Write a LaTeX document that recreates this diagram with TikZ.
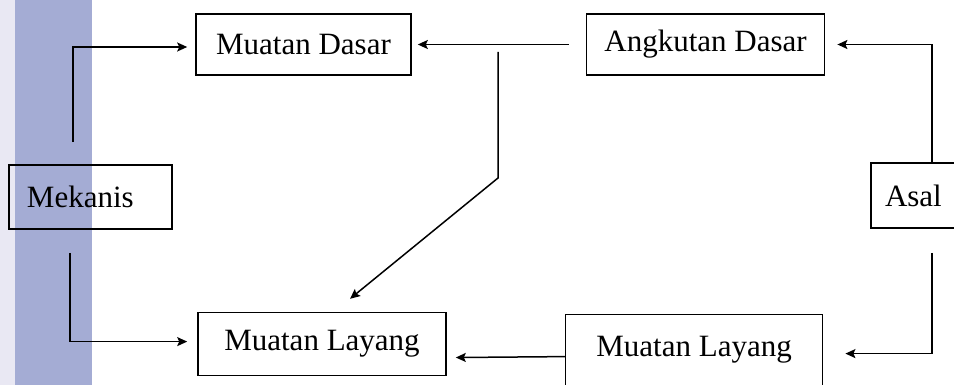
\documentclass[tikz,border=0pt]{standalone}
\usepackage{fontspec}
\setmainfont{Liberation Serif}
\usepackage{tikz}
\usetikzlibrary{positioning,arrows.meta}
\definecolor{strip}{HTML}{E9E8F3}
\definecolor{band}{HTML}{A4ACD4}

\begin{document}
\begin{tikzpicture}[x=1pt,y=-1pt,font=\fontsize{31}{37}\selectfont]
    \tikzstyle{box} = [rectangle, draw, line width=1.6pt, inner sep=0pt, minimum height=61pt, text centered]
    \tikzstyle{arrow} = [line width=1.5pt,-{Stealth[length=10pt,width=9pt,inset=2pt]}]
    \useasboundingbox (0,0) rectangle (954,385);
        \node (md) [box, minimum width=215pt] at (303.5,44.5) {Muatan Dasar};
        \node (ad) [box, minimum width=238pt, right=174pt of md] {Angkutan Dasar};
        \node (mk) [box, minimum height=64pt, inner xsep=18pt, text width=127pt, align=left] at (90.5,197) {Mekanis};
        \node (as) [box, minimum height=65pt, inner xsep=14pt, text width=75pt, align=left] at (922.5,195.5) {Asal};
        \node (ml) [box, minimum width=248pt, minimum height=63pt, below right=236pt and 2pt of md.south west] {Muatan Layang};
        \node (ml2) [box, minimum width=257pt, minimum height=71pt, right=118pt of ml, yshift=-6pt] {Muatan Layang};
        \coordinate (br) at (498,52);
        \coordinate (knee) at (498,178);
        \draw[arrow, shorten <=22pt, shorten >=8pt] ([xshift=-17.5pt]mk.north) |- ([yshift=-2.5pt]md.west);
        \draw[arrow, shorten <=23pt, shorten >=10pt] ([xshift=-20.5pt]mk.south) |- ([yshift=2.5pt]ml.west);
        \draw[arrow, shorten <=17pt, shorten >=6pt] (ad.west) -- (md.east);
        \draw[arrow] (br) -- (knee) -- ([xshift=28pt,yshift=13pt]ml.north);
        \draw[arrow, shorten >=12pt] ([xshift=9.5pt]as.north) |- (ad.east);
        \draw[arrow, shorten <=24pt, shorten >=22pt] ([xshift=9.5pt]as.south) |- ([yshift=-3.5pt]ml2.east);
        \draw[arrow, shorten >=9pt] ([yshift=-6.5pt]ml2.west) -- ([yshift=-13.5pt]ml.east);
    \begin{scope}[blend mode=multiply]
        \fill[strip] (0,0) rectangle (15,385);
        \fill[band] (15,0) rectangle (92,385);
    \end{scope}
\end{tikzpicture}
\end{document}
